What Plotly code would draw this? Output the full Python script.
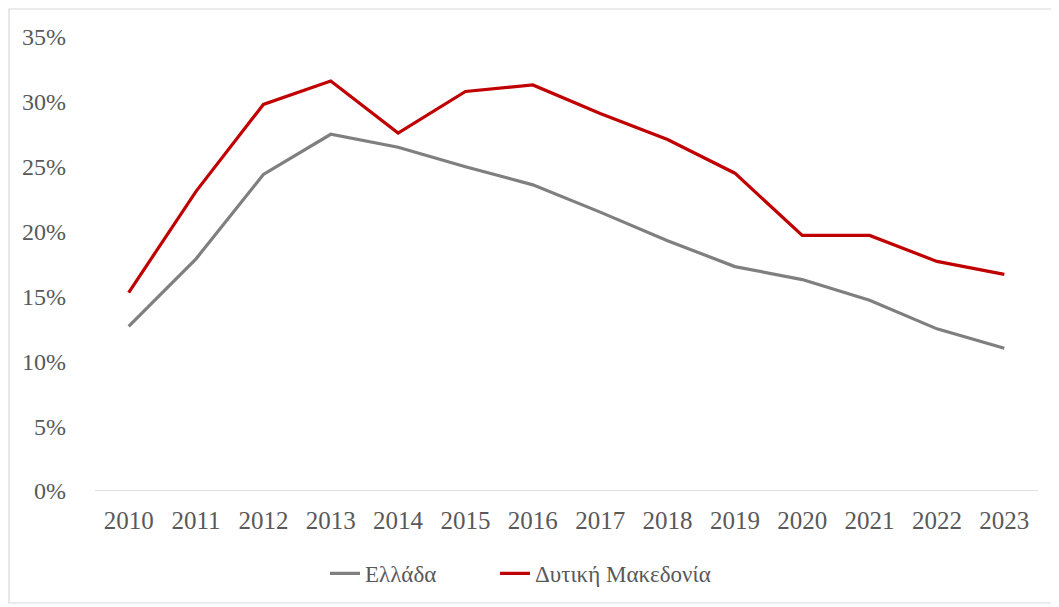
import plotly.graph_objects as go

years = ["2010", "2011", "2012", "2013", "2014", "2015", "2016", "2017", "2018", "2019", "2020", "2021", "2022", "2023"]
greece = [0.127, 0.179, 0.244, 0.275, 0.265, 0.250, 0.236, 0.215, 0.193, 0.173, 0.163, 0.147, 0.125, 0.110]
west_macedonia = [0.153, 0.231, 0.298, 0.316, 0.276, 0.308, 0.313, 0.291, 0.271, 0.245, 0.197, 0.197, 0.177, 0.167]
y_ticks = [0, 0.05, 0.10, 0.15, 0.20, 0.25, 0.30, 0.35]

# page body has an 8px margin, so the figure is sized to fill the rest of the window
W, H = 1051, 599
ml, mr, mt, mb = 87, 21, 29, 116
pw, ph = W - ml - mr, H - mt - mb

fig = go.Figure()
fig.add_trace(go.Scatter(x=years, y=greece, mode="lines", name="Ελλάδα",
                         line=dict(color="#7f7f7f", width=3.2), legend="legend"))
fig.add_trace(go.Scatter(x=years, y=west_macedonia, mode="lines", name="Δυτική Μακεδονία",
                         line=dict(color="#c00000", width=3.2), legend="legend2"))

font_family = "Liberation Serif, DejaVu Serif, serif"
leg_common = dict(orientation="h", xanchor="left", y=-0.134, yanchor="top",
                  font=dict(size=23, color="#595959"), bgcolor="rgba(0,0,0,0)")
fig.update_layout(
    width=W, height=H,
    margin=dict(l=ml, r=mr, t=mt, b=mb),
    paper_bgcolor="white", plot_bgcolor="white",
    font=dict(family=font_family, size=23, color="#595959"),
    showlegend=True,
    legend=dict(x=(317 - ml) / pw, **leg_common),
    legend2=dict(x=(487 - ml) / pw, **leg_common),
    xaxis=dict(type="category", showgrid=False, showline=False, zeroline=False,
               ticks="", tickfont=dict(size=25, color="#595959"), ticklabelstandoff=12,
               range=[-0.5, len(years) - 0.5]),
    yaxis=dict(range=[0, 0.35], tickvals=y_ticks, tickformat=".0%", showgrid=False,
               zeroline=False, showline=False, ticks="",
               tickfont=dict(size=24, color="#595959"), ticklabelstandoff=28),
    shapes=[
        dict(type="line", xref="paper", yref="y", x0=0, x1=1, y0=0, y1=0,
             line=dict(color="#d9d9d9", width=1.5), layer="below"),
        dict(type="rect", xref="paper", yref="paper",
             x0=(1 - ml) / pw, x1=(W - 5 - ml) / pw,
             y0=-(H - 4 - mt - ph) / ph, y1=1 + (mt - 1) / ph,
             line=dict(color="#d9d9d9", width=1.2), fillcolor="rgba(0,0,0,0)"),
    ],
)

fig.write_html("out.html")
